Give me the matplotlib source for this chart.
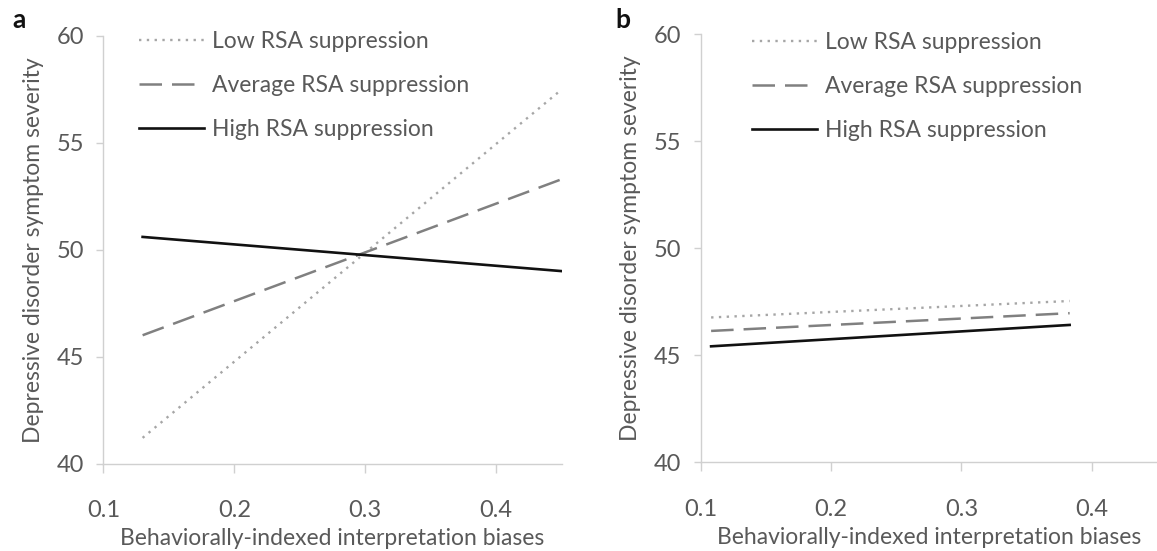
import matplotlib.pyplot as plt

plt.rcParams['font.family'] = ['Lato', 'DejaVu Sans']

# panel a
xa = [0.13, 0.45]
low_a = [41.2, 57.5]
avg_a = [46.0, 53.3]
high_a = [50.6, 49.0]

# panel b
xb = [0.108, 0.383]
low_b = [46.76, 47.53]
avg_b = [46.13, 46.96]
high_b = [45.41, 46.41]

labels = ['Low RSA suppression', 'Average RSA suppression', 'High RSA suppression']
xticks = [0.1, 0.2, 0.3, 0.4]
yticks = [40, 45, 50, 55, 60]

txt = '#595959'
grid_c = '#d0d0d0'

fig = plt.figure(figsize=(11.57, 5.51), dpi=100)
ax1 = fig.add_axes([0.0893, 0.1588, 0.3962, 0.7759])
ax2 = fig.add_axes([0.6056, 0.1615, 0.3944, 0.7762])


def draw(ax, x, low, avg, high, leg_anchor):
    ax.plot(x, low, color='#a6a6a6', lw=1.7, dashes=(1.0, 2.3), label=labels[0])
    ax.plot(x, avg, color='#808080', lw=1.8, dashes=(9, 4), label=labels[1])
    ax.plot(x, high, color='#111111', lw=1.9, label=labels[2])
    ax.set_xlim(0.1, 0.45)
    ax.set_ylim(40, 60)
    ax.set_xticks(xticks)
    ax.set_xticklabels([str(t) for t in xticks])
    ax.set_yticks(yticks)
    for s in ['top', 'right']:
        ax.spines[s].set_visible(False)
    for s in ['left', 'bottom']:
        ax.spines[s].set_color(grid_c)
        ax.spines[s].set_linewidth(1.0)
    ax.tick_params(axis='y', length=5, width=1, color=grid_c, labelcolor=txt,
                   labelsize=17, pad=9)
    ax.tick_params(axis='x', length=6.5, width=1, color=grid_c, labelcolor=txt,
                   labelsize=17, pad=20)
    ax.set_xlabel('Behaviorally-indexed interpretation biases', color=txt,
                  fontsize=16.5, labelpad=5)
    ax.set_ylabel('Depressive disorder symptom severity', color=txt,
                  fontsize=16.5, labelpad=9)
    leg = ax.legend(loc='upper left', bbox_to_anchor=leg_anchor, frameon=False,
                    fontsize=16.5, handlelength=2.85, handletextpad=0.35,
                    labelspacing=1.0, borderpad=0, borderaxespad=0)
    for t in leg.get_texts():
        t.set_color(txt)


draw(ax1, xa, low_a, avg_a, high_a, (0.078, 1.0117))
draw(ax2, xb, low_b, avg_b, high_b, (0.112, 1.005))

fig.text(0.0104, 0.949, 'a', fontsize=19, fontweight='bold', color='#111111', va='baseline')
fig.text(0.5315, 0.949, 'b', fontsize=19, fontweight='bold', color='#111111', va='baseline')

fig.savefig('out.png', dpi=100, facecolor='white')
